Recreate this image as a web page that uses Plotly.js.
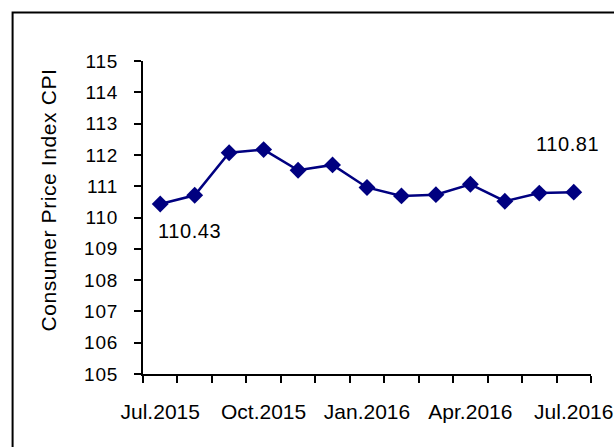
<!DOCTYPE html>
<html><head><meta charset="utf-8">
<script src="https://cdn.plot.ly/plotly-3.0.1.min.js"></script>
<style>
html,body{margin:0;padding:0;background:#fff;}
#chart{width:614px;height:447px;}
.annotation-text{letter-spacing:0.6px;}
.ytick text{letter-spacing:0.8px;}
</style></head><body><div id="chart"></div>
<script>
const months = ["Jul.2015","Aug.2015","Sep.2015","Oct.2015","Nov.2015","Dec.2015","Jan.2016","Feb.2016","Mar.2016","Apr.2016","May.2016","Jun.2016","Jul.2016"];
const cpi = [110.43,110.71,112.07,112.17,111.51,111.68,110.96,110.69,110.73,111.06,110.52,110.78,110.81];
const yTitle = "Consumer Price Index CPI";
const labelled = [0, 12];

const idx = months.map((m,i)=>i);
const tickIdx = idx.filter(i => i % 3 === 0);
const font = "Liberation Sans, Arial, sans-serif";

const trace = {
  x: idx, y: cpi, type: 'scatter', mode: 'lines+markers',
  line: {color: '#000080', width: 2.5},
  marker: {symbol: 'diamond', size: 13, color: '#000080'},
  hoverinfo: 'skip'
};

const shifts = {0: [29, -27], 12: [-6, 48]};
const annotations = labelled.map(i => ({
  x: i, y: cpi[i], xref: 'x', yref: 'y', text: cpi[i].toFixed(2),
  showarrow: false, xshift: shifts[i][0], yshift: shifts[i][1],
  font: {family: font, size: 20, color: '#000'}
}));
annotations.push({
  xref: 'paper', yref: 'paper', x: (48-142.5)/448.3, y: (374.4-200)/313.7,
  text: yTitle, textangle: -90, showarrow: false, xanchor: 'center', yanchor: 'middle',
  font: {family: font, size: 21, color: '#000'}
});

const layout = {
  width: 614, height: 447,
  margin: {l: 142.5, r: 23.2, t: 60.7, b: 72.6, pad: 0},
  paper_bgcolor: '#fff', plot_bgcolor: '#fff',
  showlegend: false,
  xaxis: {
    range: [-0.5, months.length - 0.5], fixedrange: true,
    tickmode: 'array', tickvals: tickIdx, ticktext: tickIdx.map(i => months[i]),
    ticks: '', showgrid: false, zeroline: false,
    showline: true, linecolor: '#000', linewidth: 2,
    tickfont: {family: font, size: 21, color: '#000'},
    ticklabelstandoff: 18,
    minor: {tickmode: 'linear', tick0: -0.5, dtick: 1, ticks: 'outside', ticklen: 7, tickwidth: 2, tickcolor: '#000', showgrid: false}
  },
  yaxis: {
    range: [105, 115], dtick: 1, tick0: 105, fixedrange: true,
    ticks: 'outside', ticklen: 7, tickwidth: 2, tickcolor: '#000',
    showgrid: false, zeroline: false,
    showline: true, linecolor: '#000', linewidth: 2,
    tickfont: {family: font, size: 19, color: '#000'},
    ticklabelstandoff: 12
  },
  annotations: annotations,
  shapes: [{
    type: 'rect', xref: 'paper', yref: 'paper',
    x0: (12-142.5)/448.3, x1: 1.5, y0: -0.5, y1: (374.4-12)/313.7,
    line: {color: '#000', width: 2}, fillcolor: 'rgba(0,0,0,0)', layer: 'below'
  }]
};

Plotly.newPlot('chart', [trace], layout, {displayModeBar: false, staticPlot: true});
</script></body></html>
